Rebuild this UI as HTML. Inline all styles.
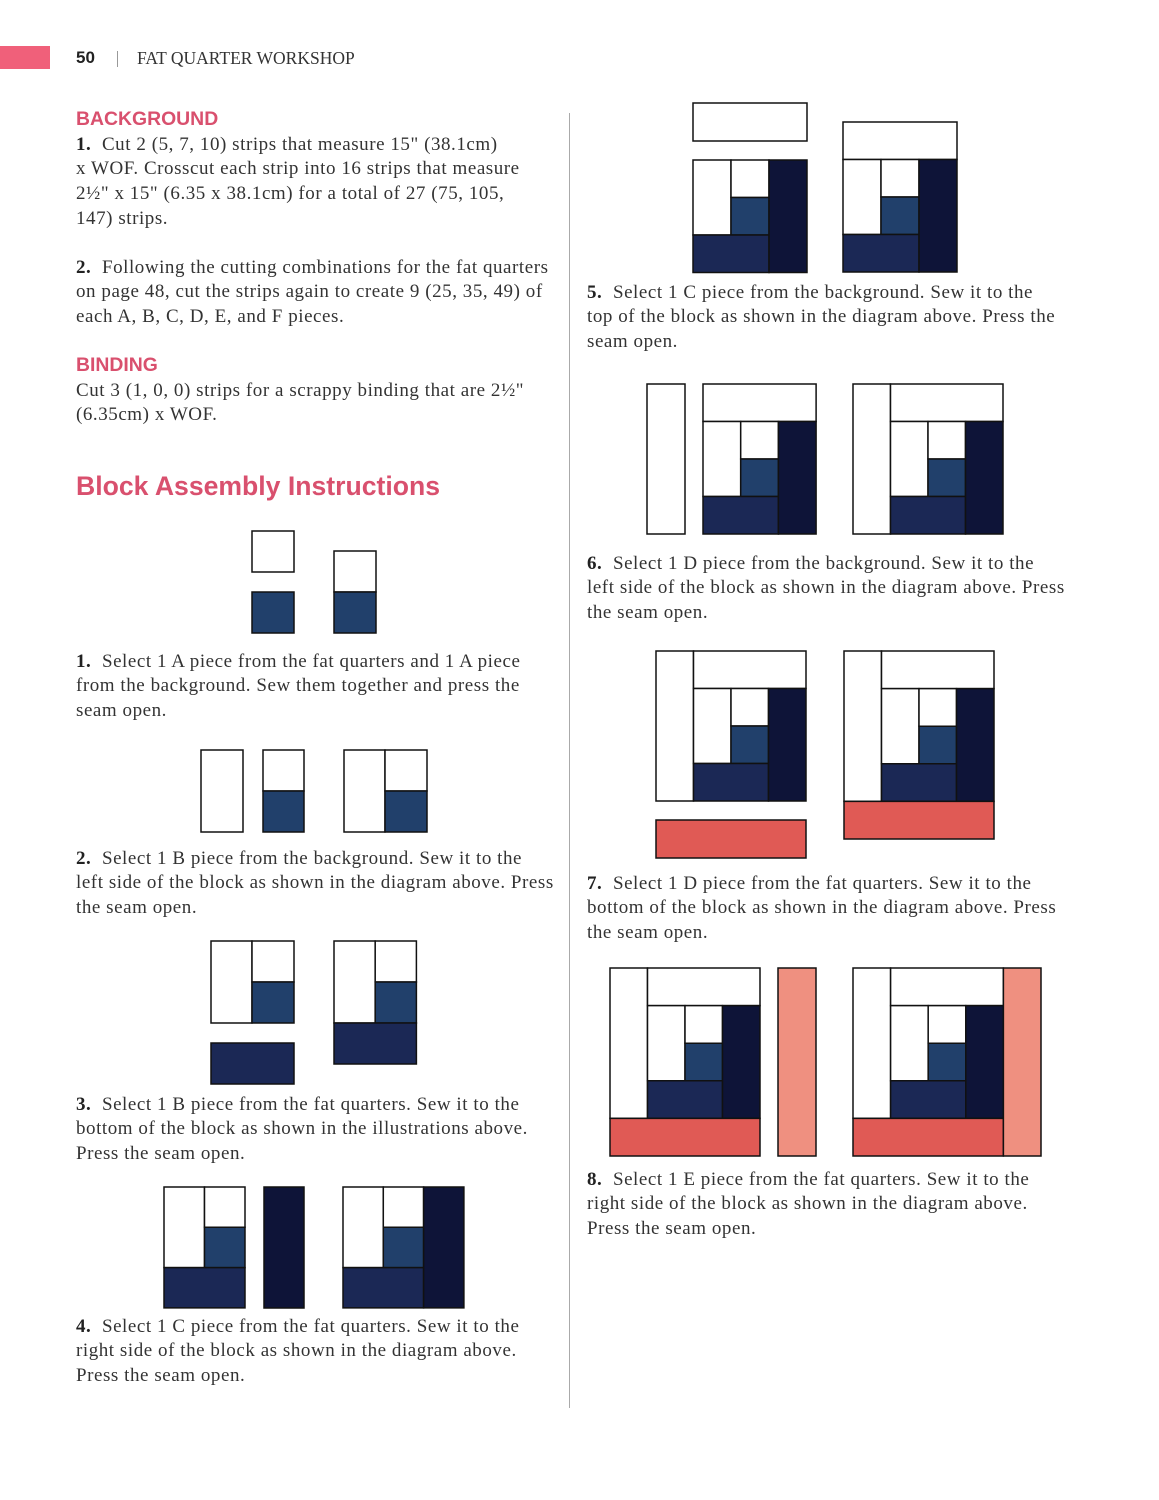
<!DOCTYPE html>
<html><head><meta charset="utf-8">
<style>
body{margin:0;width:1159px;height:1500px;background:#fff;position:relative;overflow:hidden}
.t{position:absolute;font-family:"Liberation Serif",serif;font-size:19px;line-height:24.7px;color:#333;white-space:nowrap;letter-spacing:0.55px}
.t b{color:#222}
.h{position:absolute;font-family:"Liberation Sans",sans-serif;font-weight:bold;color:#d9506e;white-space:nowrap}
svg{position:absolute;left:0;top:0}
</style></head><body>
<div style="position:absolute;left:0;top:46px;width:50px;height:23px;background:#f0607a"></div>
<div class="h" style="left:76px;top:48px;font-size:17px;color:#222">50</div>
<div style="position:absolute;left:117px;top:51px;width:1px;height:16px;background:#999"></div>
<div class="t" style="left:137px;top:46px;font-size:17.5px;letter-spacing:0">FAT QUARTER WORKSHOP</div>
<div style="position:absolute;left:569px;top:113px;width:1px;height:1295px;background:#aaa"></div>

<div class="h" style="left:76px;top:108px;font-size:19.4px">BACKGROUND</div>
<div class="t" style="left:76px;top:132.5px"><b>1.</b>&nbsp; Cut 2 (5, 7, 10) strips that measure 15" (38.1cm)<br>x WOF. Crosscut each strip into 16 strips that measure<br>2½" x 15" (6.35 x 38.1cm) for a total of 27 (75, 105,<br>147) strips.</div>
<div class="t" style="left:76px;top:255.5px"><b>2.</b>&nbsp; Following the cutting combinations for the fat quarters<br>on page 48, cut the strips again to create 9 (25, 35, 49) of<br>each A, B, C, D, E, and F pieces.</div>
<div class="h" style="left:76px;top:354px;font-size:19.4px">BINDING</div>
<div class="t" style="left:76px;top:378.5px">Cut 3 (1, 0, 0) strips for a scrappy binding that are 2½"<br>(6.35cm) x WOF.</div>
<div class="h" style="left:76px;top:471px;font-size:26.6px">Block Assembly Instructions</div>
<div class="t" style="left:76px;top:649.5px"><b>1.</b>&nbsp; Select 1 A piece from the fat quarters and 1 A piece<br>from the background. Sew them together and press the<br>seam open.</div>
<div class="t" style="left:76px;top:846.5px"><b>2.</b>&nbsp; Select 1 B piece from the background. Sew it to the<br>left side of the block as shown in the diagram above. Press<br>the seam open.</div>
<div class="t" style="left:76px;top:1092.5px"><b>3.</b>&nbsp; Select 1 B piece from the fat quarters. Sew it to the<br>bottom of the block as shown in the illustrations above.<br>Press the seam open.</div>
<div class="t" style="left:76px;top:1314.5px"><b>4.</b>&nbsp; Select 1 C piece from the fat quarters. Sew it to the<br>right side of the block as shown in the diagram above.<br>Press the seam open.</div>
<div class="t" style="left:587px;top:280.5px"><b>5.</b>&nbsp; Select 1 C piece from the background. Sew it to the<br>top of the block as shown in the diagram above. Press the<br>seam open.</div>
<div class="t" style="left:587px;top:551.5px"><b>6.</b>&nbsp; Select 1 D piece from the background. Sew it to the<br>left side of the block as shown in the diagram above. Press<br>the seam open.</div>
<div class="t" style="left:587px;top:871.5px"><b>7.</b>&nbsp; Select 1 D piece from the fat quarters. Sew it to the<br>bottom of the block as shown in the diagram above. Press<br>the seam open.</div>
<div class="t" style="left:587px;top:1167.5px"><b>8.</b>&nbsp; Select 1 E piece from the fat quarters. Sew it to the<br>right side of the block as shown in the diagram above.<br>Press the seam open.</div>

<svg width="1159" height="1500" viewBox="0 0 1159 1500">
<defs>
<g id="g3" stroke="#111" stroke-width="1.5">
<rect x="0" y="0" width="1" height="2" fill="#fff" vector-effect="non-scaling-stroke"/>
<rect x="1" y="0" width="1" height="1" fill="#fff" vector-effect="non-scaling-stroke"/>
<rect x="1" y="1" width="1" height="1" fill="#21406b" vector-effect="non-scaling-stroke"/>
<rect x="0" y="2" width="2" height="1" fill="#1b2855" vector-effect="non-scaling-stroke"/>
</g>
<g id="g4"><use href="#g3"/><rect x="2" y="0" width="1" height="3" fill="#0e1438" stroke="#111" stroke-width="1.5" vector-effect="non-scaling-stroke"/></g>
<g id="g5"><rect x="0" y="0" width="3" height="1" fill="#fff" stroke="#111" stroke-width="1.5" vector-effect="non-scaling-stroke"/><use href="#g4" transform="translate(0,1)"/></g>
<g id="g6"><rect x="0" y="0" width="1" height="4" fill="#fff" stroke="#111" stroke-width="1.5" vector-effect="non-scaling-stroke"/><use href="#g5" transform="translate(1,0)"/></g>
<g id="g7"><use href="#g6"/><rect x="0" y="4" width="4" height="1" fill="#e05a55" stroke="#111" stroke-width="1.5" vector-effect="non-scaling-stroke"/></g>
<g id="g8"><use href="#g7"/><rect x="4" y="0" width="1" height="5" fill="#ef9080" stroke="#111" stroke-width="1.5" vector-effect="non-scaling-stroke"/></g>
</defs>
<g stroke="#111" stroke-width="1.5">
<rect x="252" y="531" width="42" height="41" fill="#fff"/>
<rect x="252" y="592" width="42" height="41" fill="#21406b"/>
<rect x="334" y="551" width="42" height="41" fill="#fff"/>
<rect x="334" y="592" width="42" height="41" fill="#21406b"/>
<rect x="201" y="750" width="42" height="82" fill="#fff"/>
<rect x="263" y="750" width="41" height="41" fill="#fff"/>
<rect x="263" y="791" width="41" height="41" fill="#21406b"/>
<rect x="344" y="750" width="41" height="82" fill="#fff"/>
<rect x="385" y="750" width="42" height="41" fill="#fff"/>
<rect x="385" y="791" width="42" height="41" fill="#21406b"/>
<rect x="211" y="941" width="41" height="82" fill="#fff"/>
<rect x="252" y="941" width="42" height="41" fill="#fff"/>
<rect x="252" y="982" width="42" height="41" fill="#21406b"/>
<rect x="211" y="1043" width="83" height="41" fill="#1b2855"/>
<rect x="264" y="1187" width="40" height="121" fill="#0e1438"/>
<rect x="693" y="103" width="114" height="38" fill="#fff"/>
<rect x="647" y="384" width="38" height="150" fill="#fff"/>
<rect x="656" y="820" width="150" height="38" fill="#e05a55"/>
<rect x="778" y="968" width="38" height="188" fill="#ef9080"/>
</g>
<use href="#g3" transform="translate(334,941) scale(41.2,41)"/>
<use href="#g3" transform="translate(164,1187) scale(40.5,40.3)"/>
<use href="#g4" transform="translate(343,1187) scale(40.3,40.3)"/>
<use href="#g4" transform="translate(693,160) scale(38,37.5)"/>
<use href="#g5" transform="translate(843,122) scale(38,37.5)"/>
<use href="#g5" transform="translate(703,384) scale(37.7,37.5)"/>
<use href="#g6" transform="translate(853,384) scale(37.5,37.5)"/>
<use href="#g6" transform="translate(656,651) scale(37.5,37.5)"/>
<use href="#g7" transform="translate(844,651) scale(37.5,37.6)"/>
<use href="#g7" transform="translate(610,968) scale(37.5,37.6)"/>
<use href="#g8" transform="translate(853,968) scale(37.6,37.6)"/>
</svg>
</body></html>
